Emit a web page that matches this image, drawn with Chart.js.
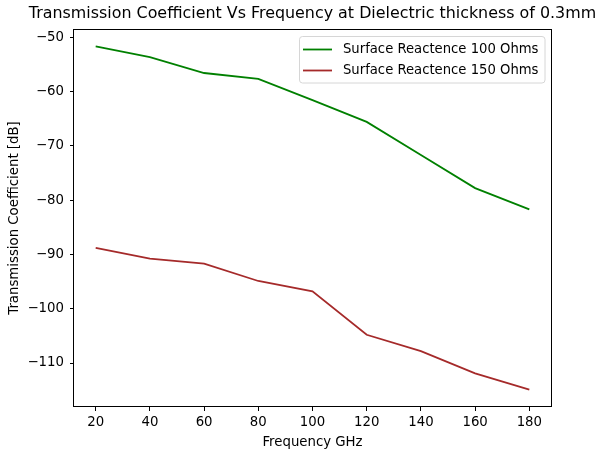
<!DOCTYPE html>
<html>
<head>
<meta charset="utf-8">
<script src="https://cdn.jsdelivr.net/npm/chart.js@4.4.1/dist/chart.umd.min.js"></script>
<style>
  html, body { margin: 0; padding: 0; background: #fff; }
  canvas { display: block; }
</style>
</head>
<body>
<canvas id="chart" width="599" height="452"></canvas>
<script>
const frequencies = [20, 40, 60, 80, 100, 120, 140, 160, 180];
const reactance100 = [-51.7, -53.7, -56.6, -57.7, -61.6, -65.6, -71.7, -77.8, -81.7];
const reactance150 = [-88.8, -90.8, -91.7, -94.9, -96.8, -104.8, -107.8, -111.9, -114.9];
const xTicks = [20, 40, 60, 80, 100, 120, 140, 160, 180];
const yTicks = [-110, -100, -90, -80, -70, -60, -50];

const titleText = "Transmission Coefficient Vs Frequency at Dielectric thickness of 0.3mm";
const seriesNames = ["Surface Reactence 100 Ohms", "Surface Reactence 150 Ohms"];
const seriesColors = ["#008000", "#a52a2a"];

Chart.defaults.font.family = "'DejaVu Sans', sans-serif";
Chart.defaults.font.size = 13.3;
Chart.defaults.color = "#000";

function minusSign(value) {
  return String(value).replace("-", "\u2212");
}

// title, frame and legend drawn like matplotlib
const decorations = {
  id: "decorations",
  afterDatasetsDraw(chart) {
    const ctx = chart.ctx;
    const area = chart.chartArea;
    ctx.save();

    ctx.strokeStyle = "#000";
    ctx.lineWidth = 1;
    ctx.strokeRect(Math.round(area.left) - 0.5, Math.round(area.top) + 0.5,
      Math.round(area.right - area.left) + 1, Math.round(area.bottom - area.top) - 1);

    ctx.fillStyle = "#000";
    ctx.font = "15.9px 'DejaVu Sans'";
    ctx.textAlign = "center";
    ctx.textBaseline = "middle";
    ctx.fillText(titleText, (area.left + area.right) / 2, 14);

    // legend box
    const bx = 299.5, by = 36.5, bw = 245.5, bh = 46.5, r = 3;
    ctx.beginPath();
    ctx.roundRect(bx, by, bw, bh, r);
    ctx.fillStyle = "rgba(255,255,255,0.8)";
    ctx.fill();
    ctx.strokeStyle = "#d6d6d6";
    ctx.lineWidth = 1;
    ctx.stroke();

    ctx.font = "13.2px 'DejaVu Sans'";
    ctx.textAlign = "left";
    seriesNames.forEach((name, i) => {
      const y = 49.5 + i * 21;
      ctx.beginPath();
      ctx.moveTo(303, y);
      ctx.lineTo(332, y);
      ctx.strokeStyle = seriesColors[i];
      ctx.lineWidth = 1.8;
      ctx.stroke();
      ctx.fillStyle = "#000";
      ctx.fillText(name, 343, y);
    });

    ctx.restore();
  }
};

new Chart(document.getElementById("chart"), {
  type: "line",
  data: {
    labels: frequencies,
    datasets: [
      {
        label: seriesNames[0],
        data: frequencies.map((f, i) => ({ x: f, y: reactance100[i] })),
        borderColor: seriesColors[0],
        borderWidth: 1.8,
        pointRadius: 0,
        tension: 0,
        fill: false
      },
      {
        label: seriesNames[1],
        data: frequencies.map((f, i) => ({ x: f, y: reactance150[i] })),
        borderColor: seriesColors[1],
        borderWidth: 1.8,
        pointRadius: 0,
        tension: 0,
        fill: false
      }
    ]
  },
  options: {
    responsive: false,
    animation: false,
    devicePixelRatio: 1,
    layout: {
      padding: { top: 29, right: 48, bottom: 0, left: 0 }
    },
    plugins: {
      legend: { display: false },
      title: { display: false },
      tooltip: { enabled: false }
    },
    scales: {
      x: {
        type: "linear",
        min: 12,
        max: 188,
        afterBuildTicks: axis => {
          axis.ticks = xTicks.map(v => ({ value: v }));
        },
        afterFit: axis => {
          axis.height = 45;
        },
        ticks: {
          padding: 4,
          color: "#000",
          autoSkip: false,
          maxRotation: 0,
          callback: v => minusSign(v)
        },
        grid: {
          display: true,
          drawOnChartArea: false,
          drawTicks: true,
          tickLength: 4,
          tickColor: "#000",
          tickWidth: 1
        },
        border: { display: false },
        title: {
          display: true,
          text: "Frequency GHz",
          color: "#000",
          font: { size: 13.3 },
          padding: { top: 0, bottom: 1 }
        }
      },
      y: {
        type: "linear",
        min: -118.1,
        max: -48.5,
        afterBuildTicks: axis => {
          axis.ticks = yTicks.map(v => ({ value: v }));
        },
        afterFit: axis => {
          axis.width = 74;
        },
        ticks: {
          padding: 6,
          color: "#000",
          autoSkip: false,
          callback: v => minusSign(v)
        },
        grid: {
          display: true,
          drawOnChartArea: false,
          drawTicks: true,
          tickLength: 4,
          tickColor: "#000",
          tickWidth: 1
        },
        border: { display: false },
        title: {
          display: true,
          text: "Transmission Coefficient [dB]",
          color: "#000",
          font: { size: 13.3 },
          padding: { top: 7, bottom: 0 }
        }
      }
    }
  },
  plugins: [decorations]
});
</script>
</body>
</html>
